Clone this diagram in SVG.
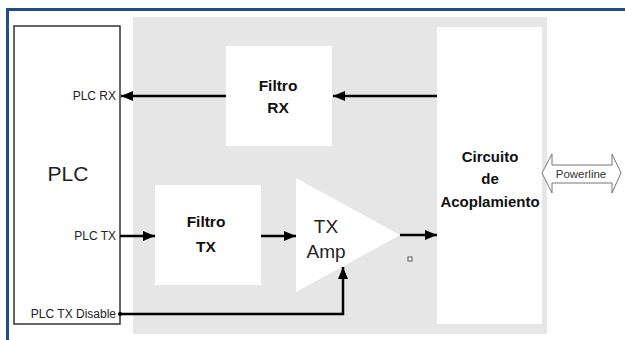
<svg xmlns="http://www.w3.org/2000/svg" width="625" height="340" viewBox="0 0 625 340">
<defs>
<style>
.lbl{font-family:"Liberation Sans",Arial,sans-serif;font-size:12px;fill:#222}
.bold{font-family:"Liberation Sans",Arial,sans-serif;font-weight:bold;font-size:15px;fill:#111;text-anchor:middle}
.wire{fill:none;stroke:#000;stroke-width:2.5}
.box{fill:#fff}
</style>
<marker id="ah" viewBox="0 0 12 10" refX="12" refY="5" markerWidth="12" markerHeight="10" markerUnits="userSpaceOnUse" orient="auto">
<path d="M0,0 L12,5 L0,10 Z" fill="#000"/>
</marker>
</defs>
<rect x="0" y="0" width="625" height="340" fill="#fff"/>
<g id="frame">
<rect x="6" y="8" width="619" height="3" fill="#1f4e85"/>
<rect x="6" y="8" width="3" height="332" fill="#1f4e85"/>
</g>
<rect id="background" x="133" y="17" width="414" height="317" fill="#e6e6e6"/>
<g id="plc">
<rect x="14" y="26" width="106" height="298" fill="#fff" stroke="#333" stroke-width="1.5"/>
<text x="68" y="181" style="font-family:'Liberation Sans',Arial,sans-serif;font-size:21px;fill:#222" text-anchor="middle">PLC</text>
<text class="lbl" x="116" y="100" text-anchor="end">PLC RX</text>
<text class="lbl" x="116" y="240" text-anchor="end">PLC TX</text>
<text class="lbl" x="116" y="318" text-anchor="end">PLC TX Disable</text>
</g>
<g id="filtro-rx">
<rect class="box" x="226" y="46" width="106" height="100"/>
<text class="bold" x="278" y="91" style="font-size:15.5px">Filtro</text>
<text class="bold" x="278" y="113" style="font-size:15.5px">RX</text>
</g>
<g id="filtro-tx">
<rect class="box" x="155" y="185" width="106" height="100"/>
<text class="bold" x="206" y="227" style="font-size:15.5px">Filtro</text>
<text class="bold" x="206" y="252" style="font-size:15.5px">TX</text>
</g>
<g id="tx-amp">
<polygon points="296,178 296,292 400,235" fill="#fff"/>
<text x="326" y="233" text-anchor="middle" style="font-family:'Liberation Sans',Arial,sans-serif;font-size:19px;fill:#222">TX</text>
<text x="326" y="258" text-anchor="middle" style="font-family:'Liberation Sans',Arial,sans-serif;font-size:19px;fill:#222">Amp</text>
</g>
<g id="circuito">
<rect class="box" x="437" y="27" width="105" height="297"/>
<text class="bold" x="490" y="162">Circuito</text>
<text class="bold" x="490" y="184">de</text>
<text class="bold" x="490" y="207">Acoplamiento</text>
</g>
<g id="powerline">
<polygon points="542,173 552,154 552,165 612,165 612,154 621,173 612,193 612,183 552,183 552,193" fill="#fff" stroke="#777" stroke-width="1"/>
<text x="581" y="178" text-anchor="middle" style="font-family:'Liberation Sans',Arial,sans-serif;font-size:11.5px;fill:#333">Powerline</text>
</g>
<g id="connectors">
<line class="wire" x1="437" y1="96" x2="333" y2="96" marker-end="url(#ah)"/>
<line class="wire" x1="226" y1="96" x2="121" y2="96" marker-end="url(#ah)"/>
<line class="wire" x1="120" y1="236" x2="155" y2="236" marker-end="url(#ah)"/>
<line class="wire" x1="261" y1="236" x2="296" y2="236" marker-end="url(#ah)"/>
<line class="wire" x1="400" y1="235" x2="437" y2="235" marker-end="url(#ah)"/>
<polyline class="wire" points="120,314 343,314 343,267" marker-end="url(#ah)"/>
<circle cx="120" cy="314" r="2" fill="#000"/>
</g>
<rect id="marker-square" x="408" y="257" width="4" height="4" fill="#fff" stroke="#555" stroke-width="1"/>
</svg>
